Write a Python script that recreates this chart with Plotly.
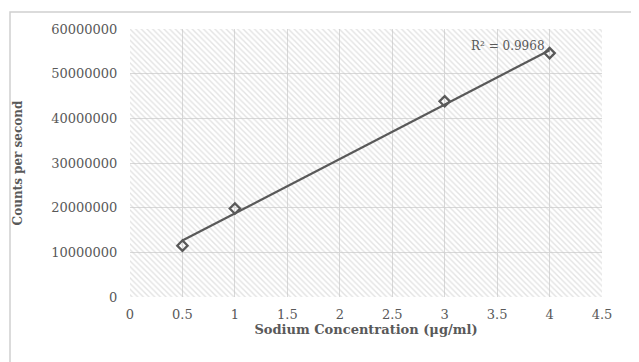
import numpy as np
import plotly.graph_objects as go

concentration = [0.5, 1, 3, 4]
counts = [11500000, 19800000, 43800000, 54600000]
x_ticks = [0, 0.5, 1, 1.5, 2, 2.5, 3, 3.5, 4, 4.5]
x_tick_labels = ["0", "0.5", "1", "1.5", "2", "2.5", "3", "3.5", "4", "4.5"]
y_ticks = [0, 10000000, 20000000, 30000000, 40000000, 50000000, 60000000]
y_tick_labels = ["0", "10000000", "20000000", "30000000", "40000000", "50000000", "60000000"]
r_squared_label = "R² = 0.9968"

slope, intercept = np.polyfit(concentration, counts, 1)
fit_x = [min(concentration), max(concentration)]
fit_y = [slope * v + intercept for v in fit_x]

# page body has an ~8px margin; size the figure to fit the window
OFF = 8
W, H = 639 - OFF, 362 - OFF
L, R, T, B = 130 - OFF, 37, 29 - OFF, 65
pw = W - L - R
ph = H - T - B

font_family = "DejaVu Serif"
gray = "#595959"

fig = go.Figure()

# hatched plot background
fig.add_trace(go.Bar(
    x=[2.25], y=[60000000], width=[4.5],
    marker=dict(color="rgba(0,0,0,0)", line=dict(width=0),
                pattern=dict(shape="\\", fgcolor="#c8c8c8", bgcolor="rgba(0,0,0,0)",
                             size=4, solidity=0.35)),
    hoverinfo="skip", showlegend=False,
))

fig.add_trace(go.Scatter(
    x=fit_x, y=fit_y, mode="lines",
    line=dict(color=gray, width=2.2), showlegend=False, hoverinfo="skip",
))
fig.add_trace(go.Scatter(
    x=concentration, y=counts, mode="markers",
    marker=dict(symbol="diamond-open", size=8, color=gray, line=dict(width=2.2, color=gray)),
    showlegend=False,
))

fig.add_annotation(
    x=4, y=counts[-1], xref="x", yref="y", text=r_squared_label, showarrow=False,
    xanchor="right", yanchor="middle", xshift=-3, yshift=7,
    font=dict(family=font_family, size=12, color=gray),
)

# outer chart border (top and left visible)
border_left_px = 9 - OFF + 1
border_top_px = 11 - OFF + 1
fig.add_shape(type="rect", xref="paper", yref="paper",
              x0=(border_left_px - L) / pw, x1=(W + 20 - L) / pw,
              y0=(H - B - (H + 20)) / ph, y1=(H - B - border_top_px) / ph,
              line=dict(color="#d0d0d0", width=1.5), layer="below")

fig.update_layout(
    width=W, height=H,
    margin=dict(l=L, r=R, t=T, b=B, autoexpand=False),
    paper_bgcolor="white", plot_bgcolor="white",
    bargap=0,
    font=dict(family=font_family, color=gray),
    xaxis=dict(
        range=[0, 4.5], tickvals=x_ticks, ticktext=x_tick_labels,
        showgrid=True, gridcolor="#d9d9d9", gridwidth=1, zeroline=False,
        showline=False, ticks="outside", ticklen=5, tickcolor="rgba(0,0,0,0)",
        tickfont=dict(size=13, color=gray),
        title=dict(text="<b>Sodium Concentration (μg/ml)</b>", standoff=4,
                   font=dict(size=13, color=gray)),
    ),
    yaxis=dict(
        range=[0, 60000000], tickvals=y_ticks, ticktext=y_tick_labels,
        showgrid=True, gridcolor="#d9d9d9", gridwidth=1, zeroline=False,
        showline=False, ticks="outside", ticklen=9, tickcolor="rgba(0,0,0,0)",
        tickfont=dict(size=13, color=gray),
        title=dict(text="<b>Counts per second</b>", standoff=26,
                   font=dict(size=12, color=gray)),
    ),
)

fig.write_html("out.html")
